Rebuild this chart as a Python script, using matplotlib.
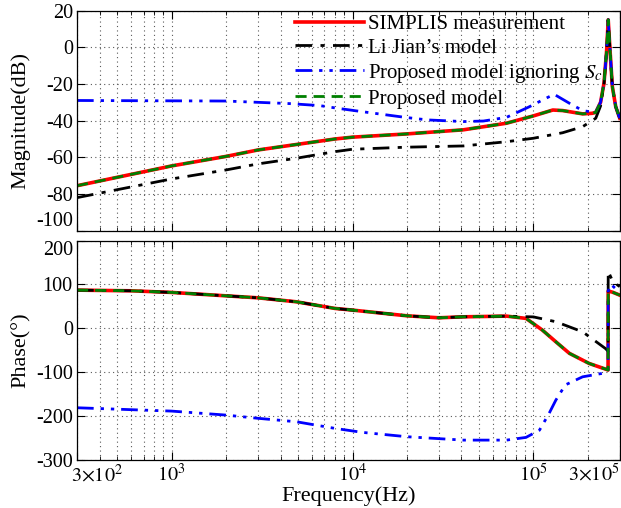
import matplotlib
matplotlib.use("Agg")
import matplotlib.pyplot as plt
from matplotlib.ticker import LogLocator, NullFormatter
from matplotlib.transforms import ScaledTranslation

plt.rcParams["font.family"] = ["Liberation Serif", "DejaVu Serif"]
plt.rcParams["mathtext.fontset"] = "stix"
plt.rcParams["axes.unicode_minus"] = False

# magnitude data (Hz, dB)
f_simplis_mag = [300, 1e3, 2e3, 3e3, 8e3, 1e4, 1.95e4, 4.1e4, 7.1e4, 1e5, 1.28e5, 1.45e5,
                 1.87e5, 2.11e5, 2.21e5, 2.35e5, 2.455e5, 2.54e5, 2.59e5, 2.65e5, 2.73e5, 2.85e5, 3e5]
simplis_mag = [-75.5, -64.7, -59.5, -56, -50, -49, -47.3, -45, -41.4, -37.4, -34.2, -34.5,
               -36.3, -36, -35.5, -30, -19.6, -1.4, 15, -1.4, -21.4, -32.4, -38.7]
proposed_mag = simplis_mag

f_lijian_mag = [300, 1e3, 2e3, 3e3, 4.9e3, 8e3, 1e4, 1.95e4, 4.1e4, 7.1e4, 1e5, 1.45e5, 1.87e5,
                2.21e5, 2.35e5, 2.455e5, 2.54e5, 2.59e5, 2.65e5, 2.73e5, 2.85e5, 3e5]
lijian_mag = [-82, -71.8, -66.9, -63.6, -60.5, -56.9, -55.6, -54.5, -53.8, -51.5, -49.6, -46.6, -43.3,
              -38.7, -32, -20, -1.4, 15, -1.4, -21.4, -32.4, -38.7]

f_ignore_mag = [300, 2e3, 3e3, 4.5e3, 6.6e3, 8.2e3, 1.13e4, 1.95e4, 2.6e4, 4.1e4, 5.3e4, 7.1e4, 9.5e4,
                1.125e5, 1.3e5, 1.58e5, 1.87e5, 2.2e5, 2.35e5, 2.455e5, 2.54e5, 2.59e5, 2.65e5,
                2.73e5, 2.85e5, 3e5]
ignore_mag = [-29, -29.3, -30, -30.7, -31.8, -33.2, -35.1, -38.2, -39.6, -40.5, -40.2, -38.2, -32.4,
              -28.7, -25.6, -30.5, -34.5, -35.6, -30, -19.6, -1.4, 15, -1.4, -21.4, -32.4, -38.7]

# phase data (Hz, deg)
f_simplis_ph = [300, 596, 1e3, 2e3, 3e3, 4.9e3, 8e3, 1e4, 2e4, 3e4, 4.1e4, 7.1e4, 9.1e4, 1.12e5,
                1.33e5, 1.58e5, 2.03e5, 2.53e5, 2.585e5, 2.59e5, 2.75e5, 3e5]
simplis_ph = [87, 85.5, 81.8, 74, 69.5, 60.4, 45.3, 41.5, 28.5, 24, 26.2, 27.8, 22.6, -4,
              -30.7, -57, -80, -93.6, -95, 85, 82, 75.6]
proposed_ph = simplis_ph

f_lijian_ph = [300, 596, 1e3, 2e3, 3e3, 4.9e3, 8e3, 1e4, 2e4, 3e4, 4.1e4, 7.1e4, 1e5, 1.33e5,
               1.87e5, 2.5e5, 2.585e5, 2.59e5, 2.75e5, 3e5]
lijian_ph = [87, 85.5, 81.8, 74, 69.5, 60.4, 45.3, 41.5, 28.5, 24, 26.2, 27.8, 26, 15,
             -8, -46, -52, 130, 106, 95]

f_ignore_ph = [300, 1e3, 2e3, 3e3, 4.9e3, 8e3, 1.13e4, 2e4, 4.1e4, 7.1e4, 9.1e4, 1.08e5, 1.22e5,
               1.33e5, 1.5e5, 1.87e5, 2.4e5, 2.53e5, 2.585e5, 2.59e5, 2.68e5, 3e5]
ignore_ph = [-181, -188.6, -197.7, -205, -212.9, -228, -237, -247, -254.7, -254.7, -248.5, -232, -194,
             -163.6, -129, -110.5, -102.7, -96.8, -95, 85, 100, 82]

legend_labels = ["SIMPLIS measurement", "Li Jian\u2019s model",
                 r"Proposed model ignoring $S_c$", "Proposed model"]
x_ticks = [300, 1e3, 1e4, 1e5, 3e5]
x_tick_labels = [r"$3{\times}10^2$", r"$10^3$", r"$10^4$", r"$10^5$", r"$3{\times}10^5$"]

black_dash = (0, (6, 3, 1.5, 3))
blue_dash = (0, (6, 2.5, 1.2, 2.5, 1.2, 2.5))
green_dash = (0, (4, 2.5))

fig = plt.figure(figsize=(6.21, 5.08), dpi=100)
ax1 = fig.add_axes([0.124, 0.546, 0.874, 0.433])
ax2 = fig.add_axes([0.124, 0.0945, 0.874, 0.432])

for ax in (ax1, ax2):
    ax.set_xscale("log")
    ax.set_xlim(300, 3e5)
    ax.xaxis.set_minor_locator(LogLocator(base=10, subs=range(2, 10), numticks=20))
    ax.xaxis.set_minor_formatter(NullFormatter())
    ax.grid(True, which="both", axis="x", linestyle=(0, (1, 3)), color="0.35", linewidth=0.8)
    ax.grid(True, which="major", axis="y", linestyle=(0, (1, 3)), color="0.35", linewidth=0.8)
    ax.tick_params(which="both", direction="in", top=True, right=True, labelsize=14.5, pad=3)
    ax.tick_params(which="major", length=6)
    ax.tick_params(which="minor", length=3)
    for sp in ax.spines.values():
        sp.set_linewidth(0.9)

ax1.plot(f_simplis_mag, simplis_mag, color="red", lw=2.6, label=legend_labels[0])
ax1.plot(f_lijian_mag, lijian_mag, color="black", lw=2, linestyle=black_dash, label=legend_labels[1])
ax1.plot(f_ignore_mag, ignore_mag, color="blue", lw=2, linestyle=blue_dash, label=legend_labels[2])
ax1.plot(f_simplis_mag, proposed_mag, color="green", lw=2, linestyle=green_dash, label=legend_labels[3])
ax1.set_ylim(-100, 20)
ax1.set_yticks(range(-100, 21, 20))
ax1.set_xticks(x_ticks)
ax1.set_xticklabels([])
ax1.set_ylabel("Magnitude(dB)", fontsize=16, labelpad=4)
ax1.legend(loc="upper left", bbox_to_anchor=(0.375, 1.05), frameon=False, fontsize=15,
           handlelength=3.3, handletextpad=0.2, labelspacing=0.2, borderpad=0.2)
# keep the edge labels of the two panels apart, as in the reference
ax1.get_yticklabels()[0].set_verticalalignment("bottom")

ax2.plot(f_simplis_ph, simplis_ph, color="red", lw=2.6)
ax2.plot(f_lijian_ph, lijian_ph, color="black", lw=2, linestyle=black_dash)
ax2.plot(f_ignore_ph, ignore_ph, color="blue", lw=2, linestyle=blue_dash)
ax2.plot(f_simplis_ph, proposed_ph, color="green", lw=2, linestyle=green_dash)
ax2.set_ylim(-300, 200)
ax2.set_yticks(range(-300, 201, 100))
ax2.get_yticklabels()[-1].set_verticalalignment("top")
ax2.set_xticks(x_ticks)
ax2.set_xticklabels(x_tick_labels)
labels = ax2.get_xticklabels()
labels[0].set_horizontalalignment("left")
labels[0].set_transform(labels[0].get_transform() + ScaledTranslation(-6 / 100, 0, fig.dpi_scale_trans))
labels[-1].set_horizontalalignment("right")
ax2.set_ylabel("Phase(\u00b0)", fontsize=16, labelpad=4)
ax2.set_xlabel("Frequency(Hz)", fontsize=16, labelpad=0)

fig.savefig("out.png", dpi=100)
